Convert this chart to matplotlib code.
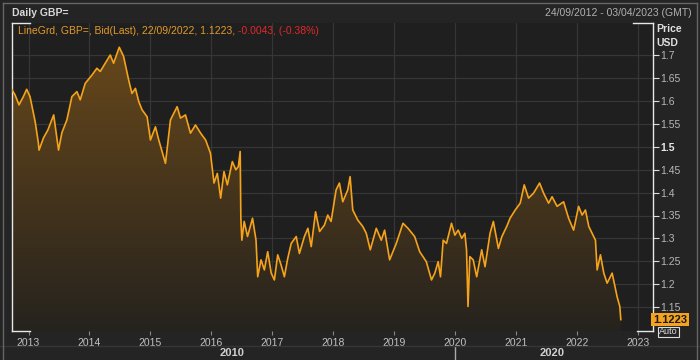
import matplotlib.pyplot as plt
import matplotlib.dates as mdates
import matplotlib.patches as mpatches
import matplotlib.transforms as mtransforms
import numpy as np
import pandas as pd

plt.rcParams["font.family"] = ["Liberation Sans", "DejaVu Sans"]

# GBP/USD daily (bid, last)
dates = [
    "2012-09-24", "2012-10-12", "2012-11-05", "2012-12-01", "2012-12-21",
    "2013-01-10", "2013-01-30", "2013-02-10", "2013-03-01", "2013-03-05",
    "2013-04-01", "2013-04-27", "2013-06-01", "2013-06-30", "2013-07-20",
    "2013-08-19", "2013-09-18", "2013-10-18", "2013-11-07", "2013-12-07",
    "2014-01-16", "2014-02-15", "2014-03-07", "2014-04-06", "2014-05-06",
    "2014-05-26", "2014-06-29", "2014-07-25", "2014-08-24", "2014-09-13",
    "2014-10-04", "2014-10-24", "2014-11-13", "2014-12-13", "2015-01-02",
    "2015-02-01", "2015-02-21", "2015-04-02", "2015-05-02", "2015-06-11",
    "2015-07-01", "2015-07-31", "2015-08-30", "2015-09-29", "2015-10-30",
    "2015-11-29", "2015-12-28", "2016-01-18", "2016-02-07", "2016-02-27",
    "2016-03-18", "2016-04-07", "2016-05-07", "2016-05-28", "2016-06-12",
    "2016-06-23", "2016-06-27", "2016-07-03", "2016-07-17", "2016-08-06",
    "2016-09-05", "2016-09-26", "2016-10-06", "2016-10-26", "2016-11-15",
    "2016-12-05", "2016-12-26", "2017-01-14", "2017-02-03", "2017-02-23",
    "2017-03-15", "2017-04-04", "2017-04-25", "2017-05-25", "2017-06-13",
    "2017-07-13", "2017-08-03", "2017-08-23", "2017-09-18", "2017-10-12",
    "2017-11-10", "2017-11-30", "2017-12-20", "2018-01-19", "2018-02-08",
    "2018-02-28", "2018-03-30", "2018-04-13", "2018-04-29", "2018-05-29",
    "2018-06-28", "2018-07-19", "2018-08-12", "2018-09-17", "2018-10-17",
    "2018-11-06", "2018-12-06", "2019-01-15", "2019-02-24", "2019-03-26",
    "2019-05-05", "2019-06-04", "2019-07-14", "2019-08-14", "2019-09-03",
    "2019-09-23", "2019-10-07", "2019-10-23", "2019-11-12", "2019-12-12",
    "2020-01-01", "2020-01-21", "2020-02-11", "2020-03-01", "2020-03-11",
    "2020-03-20", "2020-03-31", "2020-04-20", "2020-05-11", "2020-06-10",
    "2020-06-30", "2020-07-30", "2020-08-19", "2020-09-18", "2020-10-09",
    "2020-11-07", "2020-11-27", "2020-12-28", "2021-01-27", "2021-02-20",
    "2021-03-18", "2021-04-17", "2021-05-23", "2021-06-16", "2021-07-16",
    "2021-08-06", "2021-09-05", "2021-10-14", "2021-11-13", "2021-12-13",
    "2022-01-12", "2022-02-02", "2022-02-22", "2022-03-14", "2022-04-03",
    "2022-04-23", "2022-05-03", "2022-05-23", "2022-06-12", "2022-07-02",
    "2022-08-01", "2022-08-31", "2022-09-16", "2022-09-22",
]
values = [
    1.625, 1.614, 1.592, 1.610, 1.626,
    1.610, 1.574, 1.555, 1.509, 1.493,
    1.520, 1.537, 1.570, 1.493, 1.531,
    1.559, 1.610, 1.621, 1.603, 1.639,
    1.657, 1.672, 1.665, 1.683, 1.701,
    1.683, 1.718, 1.698, 1.647, 1.617,
    1.628, 1.599, 1.581, 1.566, 1.515,
    1.544, 1.515, 1.464, 1.559, 1.588,
    1.563, 1.570, 1.530, 1.548, 1.530,
    1.515, 1.486, 1.421, 1.442, 1.388,
    1.446, 1.417, 1.468, 1.450, 1.457,
    1.490, 1.344, 1.296, 1.337, 1.304,
    1.344, 1.296, 1.216, 1.253, 1.231,
    1.271, 1.224, 1.209, 1.264, 1.242,
    1.216, 1.256, 1.289, 1.304, 1.267,
    1.304, 1.322, 1.282, 1.358, 1.315,
    1.329, 1.351, 1.337, 1.406, 1.421,
    1.380, 1.406, 1.435, 1.362, 1.340,
    1.326, 1.311, 1.275, 1.322, 1.296,
    1.318, 1.253, 1.289, 1.333, 1.322,
    1.304, 1.271, 1.249, 1.209, 1.224,
    1.249, 1.216, 1.296, 1.289, 1.333,
    1.307, 1.318, 1.300, 1.311, 1.275,
    1.151, 1.260, 1.253, 1.216, 1.275,
    1.238, 1.311, 1.337, 1.278, 1.304,
    1.326, 1.344, 1.362, 1.377, 1.417,
    1.388, 1.399, 1.421, 1.399, 1.377,
    1.391, 1.370, 1.380, 1.344, 1.318,
    1.370, 1.351, 1.362, 1.326, 1.311,
    1.296, 1.231, 1.264, 1.224, 1.202,
    1.224, 1.172, 1.151, 1.1223,
]

year_ticks = [str(y) for y in range(2013, 2024)]
price_ticks = [1.7, 1.65, 1.6, 1.55, 1.5, 1.45, 1.4, 1.35, 1.3, 1.25, 1.2, 1.15]
price_labels = ["1.7", "1.65", "1.6", "1.55", "1.5", "1.45", "1.4", "1.35", "1.3", "1.25", "1.2", "1.15"]

W, H = 700, 360
fig = plt.figure(figsize=(7, 3.6), dpi=100, facecolor="#242424")
ax = fig.add_axes([12 / W, 1 - 331 / H, 641 / W, 308 / H])
ax.set_facecolor("#1f1f1f")

x = mdates.date2num(pd.to_datetime(dates))
xmin = mdates.date2num(pd.Timestamp("2012-09-24"))
xmax = mdates.date2num(pd.Timestamp("2023-04-03"))
ylo, yhi = 1.0974, 1.771

# gradient fill under the line
n = 256
t = np.linspace(0, 1, n)
bot = np.array([38, 35, 30]) / 255
top = np.array([108, 74, 26]) / 255
img = np.zeros((n, 1, 4))
img[:, 0, :3] = bot + (top - bot) * t[:, None]
img[:, 0, 3] = 1
im = ax.imshow(img, extent=[xmin, xmax, ylo, yhi], origin="lower",
               aspect="auto", zorder=1)
verts = [(x[0], ylo)] + list(zip(x, values)) + [(x[-1], ylo)]
clip = mpatches.Polygon(verts, closed=True, facecolor="none",
                        edgecolor="none", transform=ax.transData)
ax.add_patch(clip)
im.set_clip_path(clip)

ax.plot(x, values, color="#f5a31a", lw=1.2, zorder=3)

ax.set_xlim(xmin, xmax)
ax.set_ylim(ylo, yhi)

ax.set_xticks(mdates.date2num(pd.to_datetime([y + "-01-01" for y in year_ticks])))
ax.set_xticklabels(year_ticks)
ax.yaxis.tick_right()
ax.set_yticks(price_ticks)
ax.set_yticklabels(price_labels)
ax.grid(True, color="#363636", lw=0.9, zorder=0)
ax.set_axisbelow(True)
ax.tick_params(axis="x", length=3, color="#888888", labelcolor="#c4c4c4",
               labelsize=7.5, pad=2)
ax.tick_params(axis="y", length=4, color="#dddddd", labelcolor="#b8b8b8",
               labelsize=7.5, pad=1)
for lab in ax.get_yticklabels():
    if lab.get_text() == "1.5":
        lab.set_fontweight("bold")
        lab.set_color("#e8e8e8")

for s in ["top", "bottom"]:
    ax.spines[s].set_visible(False)
for s in ["left", "right"]:
    ax.spines[s].set_color("#e8e8e8")
    ax.spines[s].set_linewidth(1)

# white corner brackets
kw = dict(color="#e8e8e8", lw=1, transform=ax.transAxes, clip_on=False, zorder=5)
ax.plot([0, 18 / 641], [1, 1], **kw)
ax.plot([0, 18 / 641], [0, 0], **kw)
ax.plot([621 / 641, 1], [1, 1], **kw)
ax.plot([625 / 641, 1], [0, 0], **kw)

# last value marker, with the "Auto" button peeking out below it
trans = mtransforms.blended_transform_factory(ax.transAxes, ax.transData)
fig.text(659 / W, 1 - 332 / H, "Auto", ha="left", va="center",
         fontsize=6.5, color="#dddddd", zorder=4,
         bbox=dict(boxstyle="square,pad=0.1", fc="#242424", ec="#dddddd", lw=0.8))
ax.text(1.0, values[-1], "1.1223", transform=trans, ha="left", va="center",
        fontsize=8, fontweight="bold", color="#1a1a1a", zorder=6, clip_on=False,
        bbox=dict(boxstyle="square,pad=0.15", fc="#f5a21e", ec="none"))

# header texts
fig.text(12 / W, 1 - 13 / H, "Daily GBP=", color="#d8d8d8", fontsize=7.5,
         fontweight="bold", va="center", ha="left")
fig.text(692 / W, 1 - 13 / H, "24/09/2012 - 03/04/2023 (GMT)", color="#b0b0b0",
         fontsize=7.5, va="center", ha="right")
fig.text(656 / W, 1 - 29 / H, "Price", color="#e0e0e0", fontsize=7.5,
         fontweight="bold", va="center", ha="left")
fig.text(656 / W, 1 - 43 / H, "USD", color="#e0e0e0", fontsize=7.5,
         fontweight="bold", va="center", ha="left")

t1 = fig.text(18 / W, 1 - 31 / H, "LineGrd, GBP=, Bid(Last), 22/09/2022, 1.1223, ",
              color="#e39a2a", fontsize=7.5, va="center", ha="left")
fig.canvas.draw()
bb = t1.get_window_extent()
fig.text(bb.x1 / W, 1 - 31 / H, "-0.0043, (-0.38%)", color="#e0282a",
         fontsize=7.5, va="center", ha="left")

# decade band
fig.text(232 / W, 1 - 353 / H, "2010", color="#d0d0d0", fontsize=8,
         fontweight="bold", va="center", ha="center")
fig.text(552 / W, 1 - 353 / H, "2020", color="#d0d0d0", fontsize=8,
         fontweight="bold", va="center", ha="center")
fig.add_artist(plt.Line2D([455 / W, 455 / W], [0, 1 - 347 / H], color="#aaaaaa", lw=1))
fig.add_artist(plt.Line2D([0, 1], [1 - 346 / H, 1 - 346 / H], color="#363636", lw=1))

# outer frame
fig.add_artist(plt.Line2D([3 / W, 3 / W], [0, 1 - 3 / H], color="#666666", lw=1))
fig.add_artist(plt.Line2D([3 / W, 697 / W], [1 - 3 / H, 1 - 3 / H], color="#666666", lw=1))
fig.add_artist(plt.Line2D([697 / W, 697 / W], [0, 1 - 3 / H], color="#666666", lw=1))

fig.savefig("out.png", dpi=100, facecolor=fig.get_facecolor())
